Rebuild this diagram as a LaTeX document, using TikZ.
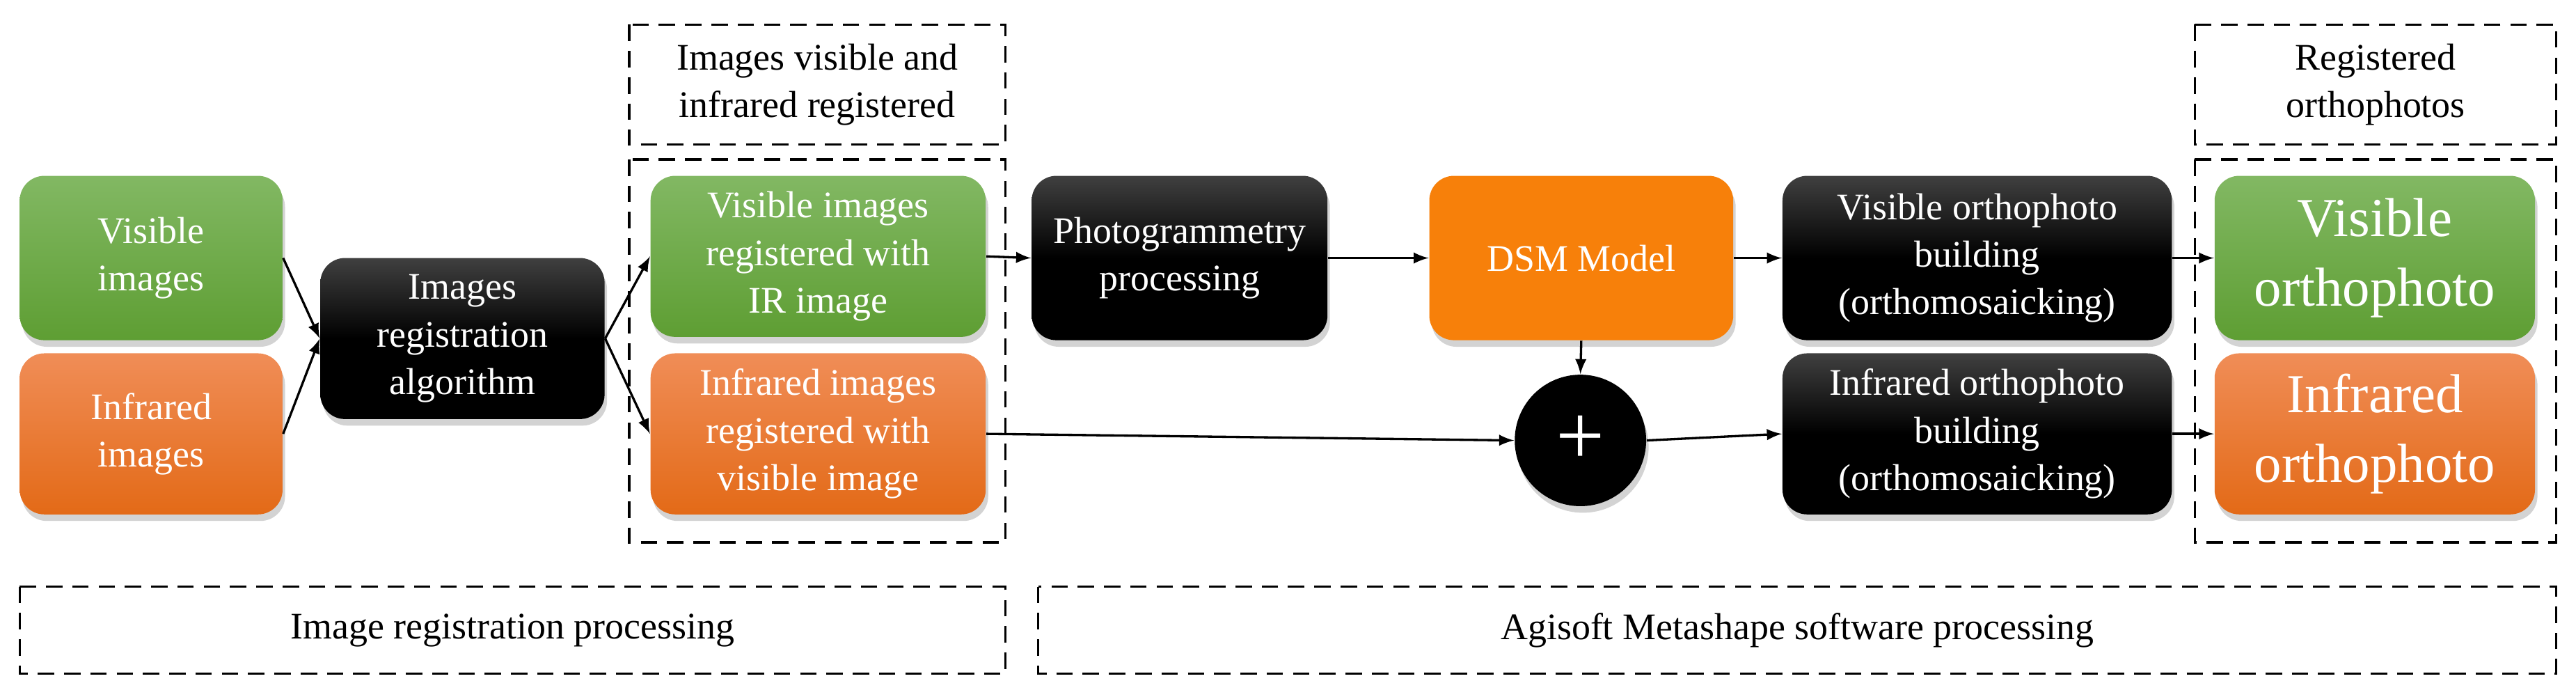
\documentclass[tikz,border=0pt]{standalone}
\usepackage{fontspec}
\setmainfont{Liberation Serif}
\usetikzlibrary{shadows}
\definecolor{grtop}{HTML}{82B863}
\definecolor{grbot}{HTML}{5E9E33}
\definecolor{ortop}{HTML}{F08D57}
\definecolor{orbot}{HTML}{E36A17}
\definecolor{dsm}{HTML}{F7800A}
\tikzset{
  box/.style={rounded corners=3mm, text=white, align=center, drop shadow={opacity=0.35,shadow xshift=0.3mm,shadow yshift=-0.8mm},
    font=\fontsize{13}{16.5}\selectfont},
  green/.style={box, top color=grtop, bottom color=grbot},
  orange/.style={box, top color=ortop, bottom color=orbot},
  dark/.style={box, top color=black!75, bottom color=black, middle color=black},
  frame/.style={draw, dashed, thick, dash pattern=on 2mm off 1.2mm},
  arr/.style={->, >=latex, thick}
}
\begin{document}
\begin{tikzpicture}[x=0.2mm,y=-0.2mm]
\useasboundingbox (0,0) rectangle (1568,419.5);

%% dashed frames
\draw[frame] (383,15) rectangle (612,88);
\node[font=\fontsize{13}{16.5}\selectfont, align=center] (regt) at (497.5,51.5) {Images visible and\\infrared registered};
\draw[frame] (383,97) rectangle (612,330);
\draw[frame] (1336,15) rectangle (1556,88);
\node[font=\fontsize{13}{16.5}\selectfont, align=center] (orthot) at (1446,51.5) {Registered\\orthophotos};
\draw[frame] (1336,97) rectangle (1556,330);
\draw[frame] (12,357) rectangle (612,410);
\node[font=\fontsize{13}{16.5}\selectfont] (regp) at (312,383.5) {Image registration processing};
\draw[frame] (632,357) rectangle (1556,410);
\node[font=\fontsize{13}{16.5}\selectfont] (agip) at (1094,383.5) {Agisoft Metashape software processing};

%% input images
\node[green, minimum width=32mm, minimum height=20mm] (vis) at (92,157) {Visible\\images};
\node[orange, minimum width=32mm, minimum height=19.6mm] (ir) at (92,264) {Infrared\\images};
\node[dark, minimum width=34.6mm, minimum height=19.6mm] (alg) at (281.5,206) {Images\\registration\\algorithm};

%% registered images
\node[green, minimum width=40.8mm, minimum height=19.6mm] (visreg) at (498,156) {Visible images\\registered with\\IR image};
\node[orange, minimum width=40.8mm, minimum height=19.6mm] (irreg) at (498,264) {Infrared images\\registered with\\visible image};

%% Metashape
\node[dark, minimum width=36mm, minimum height=20mm] (photo) at (718,157) {Photogrammetry\\processing};
\node[box, fill=dsm, minimum width=37mm, minimum height=20mm] (dsm) at (962.5,157) {DSM Model};
\node[circle, fill=black, minimum size=16mm, inner sep=0pt, text=white, drop shadow={opacity=0.35,shadow xshift=0.3mm,shadow yshift=-0.8mm},
  font=\fontsize{30}{30}\selectfont] (plus) at (962,268) {+};
\node[dark, minimum width=47.4mm, minimum height=20mm] (visbld) at (1203.5,157) {Visible orthophoto\\building\\(orthomosaicking)};
\node[dark, minimum width=47.4mm, minimum height=19.6mm] (irbld) at (1203.5,264) {Infrared orthophoto\\building\\(orthomosaicking)};

%% orthophotos
\node[green, minimum width=39mm, minimum height=20mm, font=\fontsize{19}{24}\selectfont] (visor) at (1445.5,157) {Visible\\orthophoto};
\node[orange, minimum width=39mm, minimum height=19.6mm, font=\fontsize{19}{24}\selectfont] (iror) at (1445.5,264) {Infrared\\orthophoto};

%% connectors
\draw[arr] (vis.east) -- (alg.west);
\draw[arr] (ir.east) -- (alg.west);
\draw[arr] (alg.east) -- (visreg.west);
\draw[arr] (alg.east) -- (irreg.west);
\draw[arr] (visreg.east) -- (photo.west);
\draw[arr] (photo.east) -- (dsm.west);
\draw[arr] (dsm.east) -- (visbld.west);
\draw[arr] (dsm.south) -- (plus.north);
\draw[arr] (irreg.east) -- (plus.west);
\draw[arr] (plus.east) -- (irbld.west);
\draw[arr] (visbld.east) -- (visor.west);
\draw[arr] (irbld.east) -- (iror.west);

\end{tikzpicture}
\end{document}
